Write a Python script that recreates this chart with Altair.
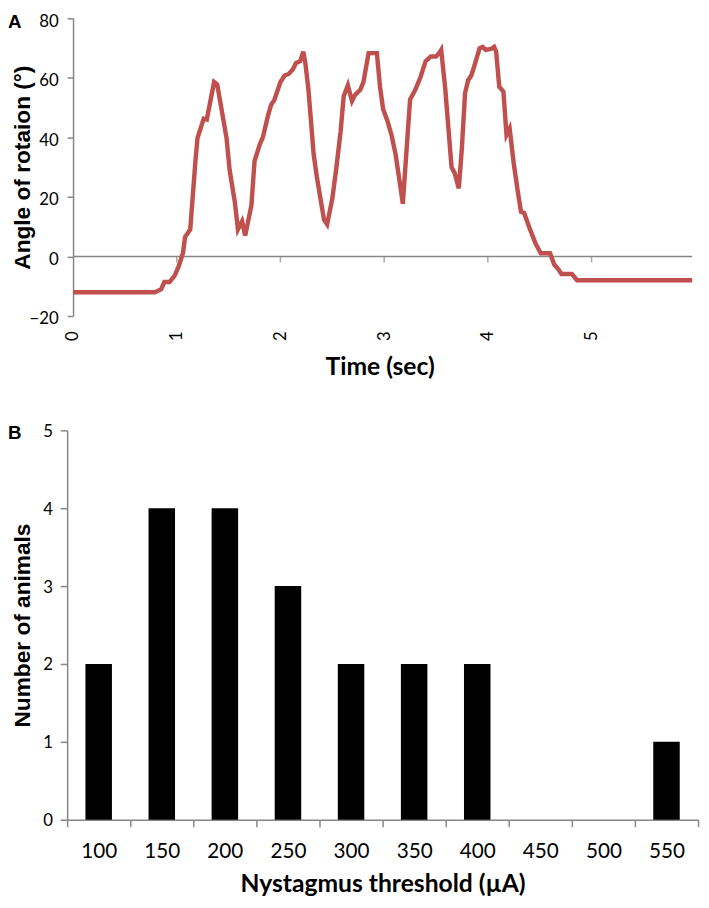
import altair as alt
import pandas as pd

# ---- Panel A data: angle of rotation over time ----
time_s = [0.00, 0.79, 0.85, 0.88, 0.93, 0.98, 1.02, 1.06, 1.08, 1.13, 1.18, 1.20,
          1.26, 1.29, 1.36, 1.39, 1.48, 1.51, 1.56, 1.59, 1.63, 1.66, 1.72, 1.75,
          1.80, 1.83, 1.88, 1.91, 1.94, 2.00, 2.04, 2.08, 2.12, 2.15, 2.19, 2.22,
          2.24, 2.27, 2.32, 2.35, 2.42, 2.45, 2.50, 2.54, 2.58, 2.61, 2.65, 2.69,
          2.72, 2.77, 2.80, 2.85, 2.93, 2.96, 2.99, 3.03, 3.07, 3.11, 3.16, 3.18,
          3.25, 3.30, 3.35, 3.40, 3.45, 3.50, 3.53, 3.55, 3.59, 3.62, 3.65, 3.68,
          3.72, 3.75, 3.78, 3.81, 3.84, 3.87, 3.92, 3.95, 3.98, 4.03, 4.06, 4.08,
          4.11, 4.15, 4.18, 4.21, 4.25, 4.29, 4.32, 4.35, 4.40, 4.46, 4.51, 4.60,
          4.64, 4.68, 4.71, 4.81, 4.86, 5.97]
angle_deg = [-12, -12, -11, -8.6, -8.6, -6.4, -3.2, 1.2, 6.5, 9.1, 32, 39.8,
             46.3, 46, 58.6, 57.8, 39.8, 29, 18.3, 9.1, 11.8, 7, 17.2, 32,
             37.6, 40, 47.3, 51, 52.5, 58.6, 60.8, 61.3, 62.9, 65, 65.6, 68.8,
             65, 56, 34.4, 26.9, 12.4, 10.8, 19.4, 30, 42, 53.8, 57.5, 52.2,
             54.3, 56, 58.6, 68.3, 68.3, 57, 49.5, 45.7, 40.9, 34.4, 22.6, 17.7,
             52.7, 56, 60.2, 65.6, 67.2, 67.2, 68.3, 69.4, 56, 43, 30, 28,
             22.9, 36.6, 54.8, 59.2, 60.8, 64, 69.9, 70.4, 69.4, 69.7, 70.4, 68.8,
             57, 55.4, 40.9, 43, 31.2, 21.5, 15, 14.6, 9.7, 4.3, 1.1, 1.1,
             -2.7, -4.3, -5.9, -5.9, -8, -8]
time_ticks = [0, 1, 2, 3, 4, 5]
time_ticks_zero_line = [1, 2, 3, 4, 5]
angle_ticks = [-20, 0, 20, 40, 60, 80]

# ---- Panel B data: nystagmus threshold histogram ----
thresholds = ["100", "150", "200", "250", "300", "350", "400", "450", "500", "550"]
animals = [2, 4, 4, 3, 2, 2, 2, 0, 0, 1]
count_ticks = [0, 1, 2, 3, 4, 5]

RED = "#C0504D"
GRAY = "#868686"
NUM_FONT = "Lato"
BOLD_FONT = "Liberation Sans"

line_df = pd.DataFrame({"t": time_s, "angle": angle_deg})
zero_df = pd.DataFrame({"t": [time_s[0]], "t1": [time_s[-1]], "angle": [0]})
tick_df = pd.DataFrame({"t": time_ticks_zero_line, "angle": [0] * len(time_ticks_zero_line)})
bar_df = pd.DataFrame({"threshold": thresholds, "animals": animals})

TOP_W, TOP_H = 634, 302
BOT_W, BOT_H = 640, 395
LEFT_GAP = 6  # y axis of panel A sits this far right of the shared plot origin

# x domain starts a little before 0 so that panel A's y axis sits right of panel B's
x_scale = alt.Scale(domain=[-LEFT_GAP * time_s[-1] / (TOP_W - LEFT_GAP), time_s[-1]],
                    nice=False, zero=False)
y_scale_a = alt.Scale(domain=[-20, 80], nice=False)

x_axis_a = alt.Axis(orient="bottom", title="Time (sec)", values=time_ticks,
                    domain=False, ticks=False, tickSize=0, labelAngle=-90,
                    labelFont=NUM_FONT, labelFontSize=17, labelColor="black",
                    labelPadding=15, titleFont=NUM_FONT, titleFontSize=25,
                    titleFontWeight="bold", titleColor="black",
                    titlePadding=14, grid=False, labelFlush=False)
y_axis_a = alt.Axis(title="Angle of rotaion (°)", values=angle_ticks,
                    offset=-LEFT_GAP,
                    domainColor=GRAY, domainWidth=1.5,
                    tickColor=GRAY, tickWidth=1.5, tickSize=6,
                    labelFont=NUM_FONT, labelFontSize=17, labelColor="black",
                    labelPadding=9, labelOffset=3,
                    titleFont=BOLD_FONT, titleFontSize=23,
                    titleFontWeight="bold", titleColor="black",
                    titleX=-62, titleBaseline="top", grid=False)

X_A = alt.X("t:Q", scale=x_scale, axis=x_axis_a)
Y_A = alt.Y("angle:Q", scale=y_scale_a, axis=y_axis_a)

zero_line = alt.Chart(zero_df).mark_rule(color=GRAY, strokeWidth=1.5).encode(
    x=X_A, x2="t1:Q", y=Y_A,
)

zero_ticks = alt.Chart(tick_df).mark_tick(
    color=GRAY, orient="vertical", size=6, thickness=1.5, yOffset=3
).encode(x=X_A, y=Y_A)

line = alt.Chart(line_df).mark_line(color=RED, strokeWidth=4.5).encode(
    x=X_A, y=Y_A,
)

label_a = alt.Chart(pd.DataFrame({"lab": ["A"]})).mark_text(
    font=BOLD_FONT, fontSize=19, fontWeight="bold", align="left", baseline="top",
    color="black").encode(text="lab:N", x=alt.value(-60), y=alt.value(-5))

top = alt.layer(zero_line, zero_ticks, line, label_a).properties(
    width=TOP_W, height=TOP_H)

bars = alt.Chart(bar_df).mark_bar(color="black", width=alt.RelativeBandSize(0.42)).encode(
    x=alt.X("threshold:N", sort=thresholds,
            scale=alt.Scale(paddingInner=0, paddingOuter=0),
            axis=alt.Axis(title="Nystagmus threshold (\u00b5A)", labelAngle=0,
                          tickBand="extent", domainColor=GRAY, domainWidth=1.5,
                          tickColor=GRAY, tickWidth=1.5, tickSize=7,
                          labelFont=NUM_FONT, labelFontSize=21, labelColor="black",
                          labelPadding=14, titleFont=NUM_FONT, titleFontSize=25,
                          titleFontWeight="bold", titleColor="black",
                          titlePadding=11)),
    y=alt.Y("animals:Q", scale=alt.Scale(domain=[0, 5], nice=False),
            axis=alt.Axis(title="Number of animals", values=count_ticks,
                          domainColor=GRAY, domainWidth=1.5, tickColor=GRAY,
                          tickWidth=1.5, tickSize=7, labelFont=NUM_FONT,
                          labelFontSize=17, labelColor="black", labelPadding=8,
                          labelOffset=1,
                          titleFont=BOLD_FONT, titleFontSize=23,
                          titleFontWeight="bold", titleColor="black",
                          titleX=-56, titleBaseline="top", grid=False)),
)

label_b = alt.Chart(pd.DataFrame({"lab": ["B"]})).mark_text(
    font=BOLD_FONT, fontSize=19, fontWeight="bold", align="left", baseline="top",
    color="black").encode(text="lab:N", x=alt.value(-60), y=alt.value(-6))

bottom = alt.layer(bars, label_b).properties(width=BOT_W, height=BOT_H)

chart = alt.vconcat(top, bottom, spacing=44).properties(
    padding={"left": 0, "top": -2, "right": 0, "bottom": 0}
).configure_view(stroke=None).configure_axis(grid=False)

chart.save("out.html", embed_options={"renderer": "svg", "actions": False})
